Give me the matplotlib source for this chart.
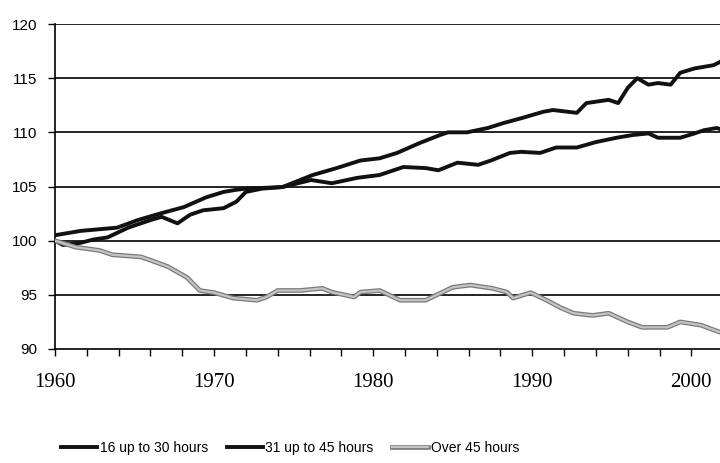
import matplotlib
matplotlib.use("Agg")
import matplotlib.pyplot as plt
import matplotlib.patheffects as pe
from matplotlib.ticker import MultipleLocator

# ---- data (index, 1960 = 100) ----
years_16_30 = [1960, 1960.5, 1961.6, 1962.4, 1963.3, 1964.6, 1966.0, 1966.7, 1967.7, 1968.5,
               1969.3, 1970.6, 1971.4, 1972.0, 1973.0, 1974.3, 1976.2, 1977.7, 1979.2, 1980.4,
               1981.5, 1982.9, 1984.2, 1984.7, 1985.9, 1987.2, 1988.2, 1989.3, 1990.7, 1991.3,
               1992.8, 1993.4, 1994.8, 1995.4, 1996.0, 1996.6, 1997.3, 1997.9, 1998.7, 1999.3,
               2000.2, 2001.4, 2001.8]
vals_16_30 = [100.0, 99.6, 99.8, 100.1, 100.3, 101.2, 101.9, 102.2, 101.6, 102.4,
              102.8, 103.0, 103.6, 104.5, 104.8, 104.95, 106.06, 106.7, 107.4, 107.6,
              108.1, 109.0, 109.75, 110.0, 110.0, 110.4, 110.86, 111.3, 111.9, 112.06,
              111.8, 112.7, 113.0, 112.7, 114.1, 115.0, 114.4, 114.55, 114.4, 115.5,
              115.9, 116.2, 116.5]

years_31_45 = [1960, 1961.6, 1963.9, 1965.2, 1966.6, 1968.1, 1969.5, 1970.6, 1971.4, 1972.0,
               1974.3, 1976.1, 1977.4, 1979.0, 1980.4, 1981.9, 1983.3, 1984.1, 1985.3, 1986.6,
               1987.4, 1988.6, 1989.3, 1990.5, 1991.5, 1992.8, 1994.0, 1995.3, 1996.3, 1997.3,
               1997.9, 1999.3, 2000.2, 2000.8, 2001.6, 2001.8]
vals_31_45 = [100.5, 100.9, 101.2, 101.9, 102.5, 103.1, 104.0, 104.5, 104.7, 104.8,
              104.95, 105.6, 105.3, 105.8, 106.06, 106.8, 106.7, 106.5, 107.2, 107.0,
              107.4, 108.1, 108.2, 108.1, 108.6, 108.6, 109.1, 109.5, 109.75, 109.9,
              109.5, 109.5, 109.9, 110.2, 110.4, 110.3]

years_over45 = [1960, 1961.3, 1962.8, 1963.6, 1965.4, 1966.0, 1967.1, 1968.3, 1969.1, 1970.0,
                1971.2, 1972.7, 1973.3, 1974.0, 1975.4, 1976.8, 1977.4, 1978.8, 1979.2, 1980.4,
                1981.7, 1983.3, 1985.0, 1986.1, 1987.5, 1988.4, 1988.8, 1989.9, 1990.9, 1991.8,
                1992.6, 1993.8, 1994.8, 1996.0, 1996.9, 1998.5, 1999.3, 2000.6, 2001.8]
vals_over45 = [100.0, 99.4, 99.1, 98.7, 98.5, 98.2, 97.6, 96.6, 95.4, 95.2,
               94.7, 94.5, 94.8, 95.4, 95.4, 95.6, 95.25, 94.8, 95.25, 95.4,
               94.5, 94.5, 95.7, 95.9, 95.6, 95.25, 94.7, 95.2, 94.5, 93.8,
               93.3, 93.1, 93.3, 92.5, 92.0, 92.0, 92.5, 92.2, 91.55]

labels = ["16 up to 30 hours", "31 up to 45 hours", "Over 45 hours"]
y_ticks = [90, 95, 100, 105, 110, 115, 120]
x_ticks = [1960, 1970, 1980, 1990, 2000]

fig = plt.figure(figsize=(7.2, 4.63), dpi=100)
ax = fig.add_axes([55 / 720, 1 - 349 / 463, 1 - 55 / 720, (349 - 24) / 463])

for y in y_ticks[1:]:
    ax.axhline(y, color="black", lw=1.2, zorder=1)

ax.plot(years_16_30, vals_16_30, color="#111111", lw=2.8, label=labels[0], zorder=3)
ax.plot(years_31_45, vals_31_45, color="#111111", lw=2.8, label=labels[1], zorder=3)
ax.plot(years_over45, vals_over45, color="#c4c4c4", lw=1.6, label=labels[2], zorder=3,
        path_effects=[pe.Stroke(linewidth=3.4, foreground="#7a7a7a"), pe.Normal()])

ax.set_xlim(1960, 2001.8)
ax.set_ylim(90, 120)
ax.set_yticks(y_ticks)
ax.set_xticks(x_ticks)
ax.xaxis.set_minor_locator(MultipleLocator(2))

for s in ["top", "right"]:
    ax.spines[s].set_visible(False)
ax.spines["left"].set_linewidth(1.2)
ax.spines["bottom"].set_linewidth(1.2)

ax.tick_params(axis="y", direction="out", length=5, width=1, pad=8,
               labelsize=11, labelfontfamily="Liberation Sans")
ax.tick_params(axis="x", which="both", direction="out", length=5, width=1)
ax.tick_params(axis="x", which="major", pad=12, labelsize=15, labelfontfamily="Liberation Serif")

fig.legend(loc="center", bbox_to_anchor=(0.403, 0.032), ncol=3, frameon=False,
           handlelength=2.6, handletextpad=0.2, columnspacing=1.3,
           prop={"family": "Liberation Sans", "size": 10})

fig.savefig("out.png", dpi=100)
